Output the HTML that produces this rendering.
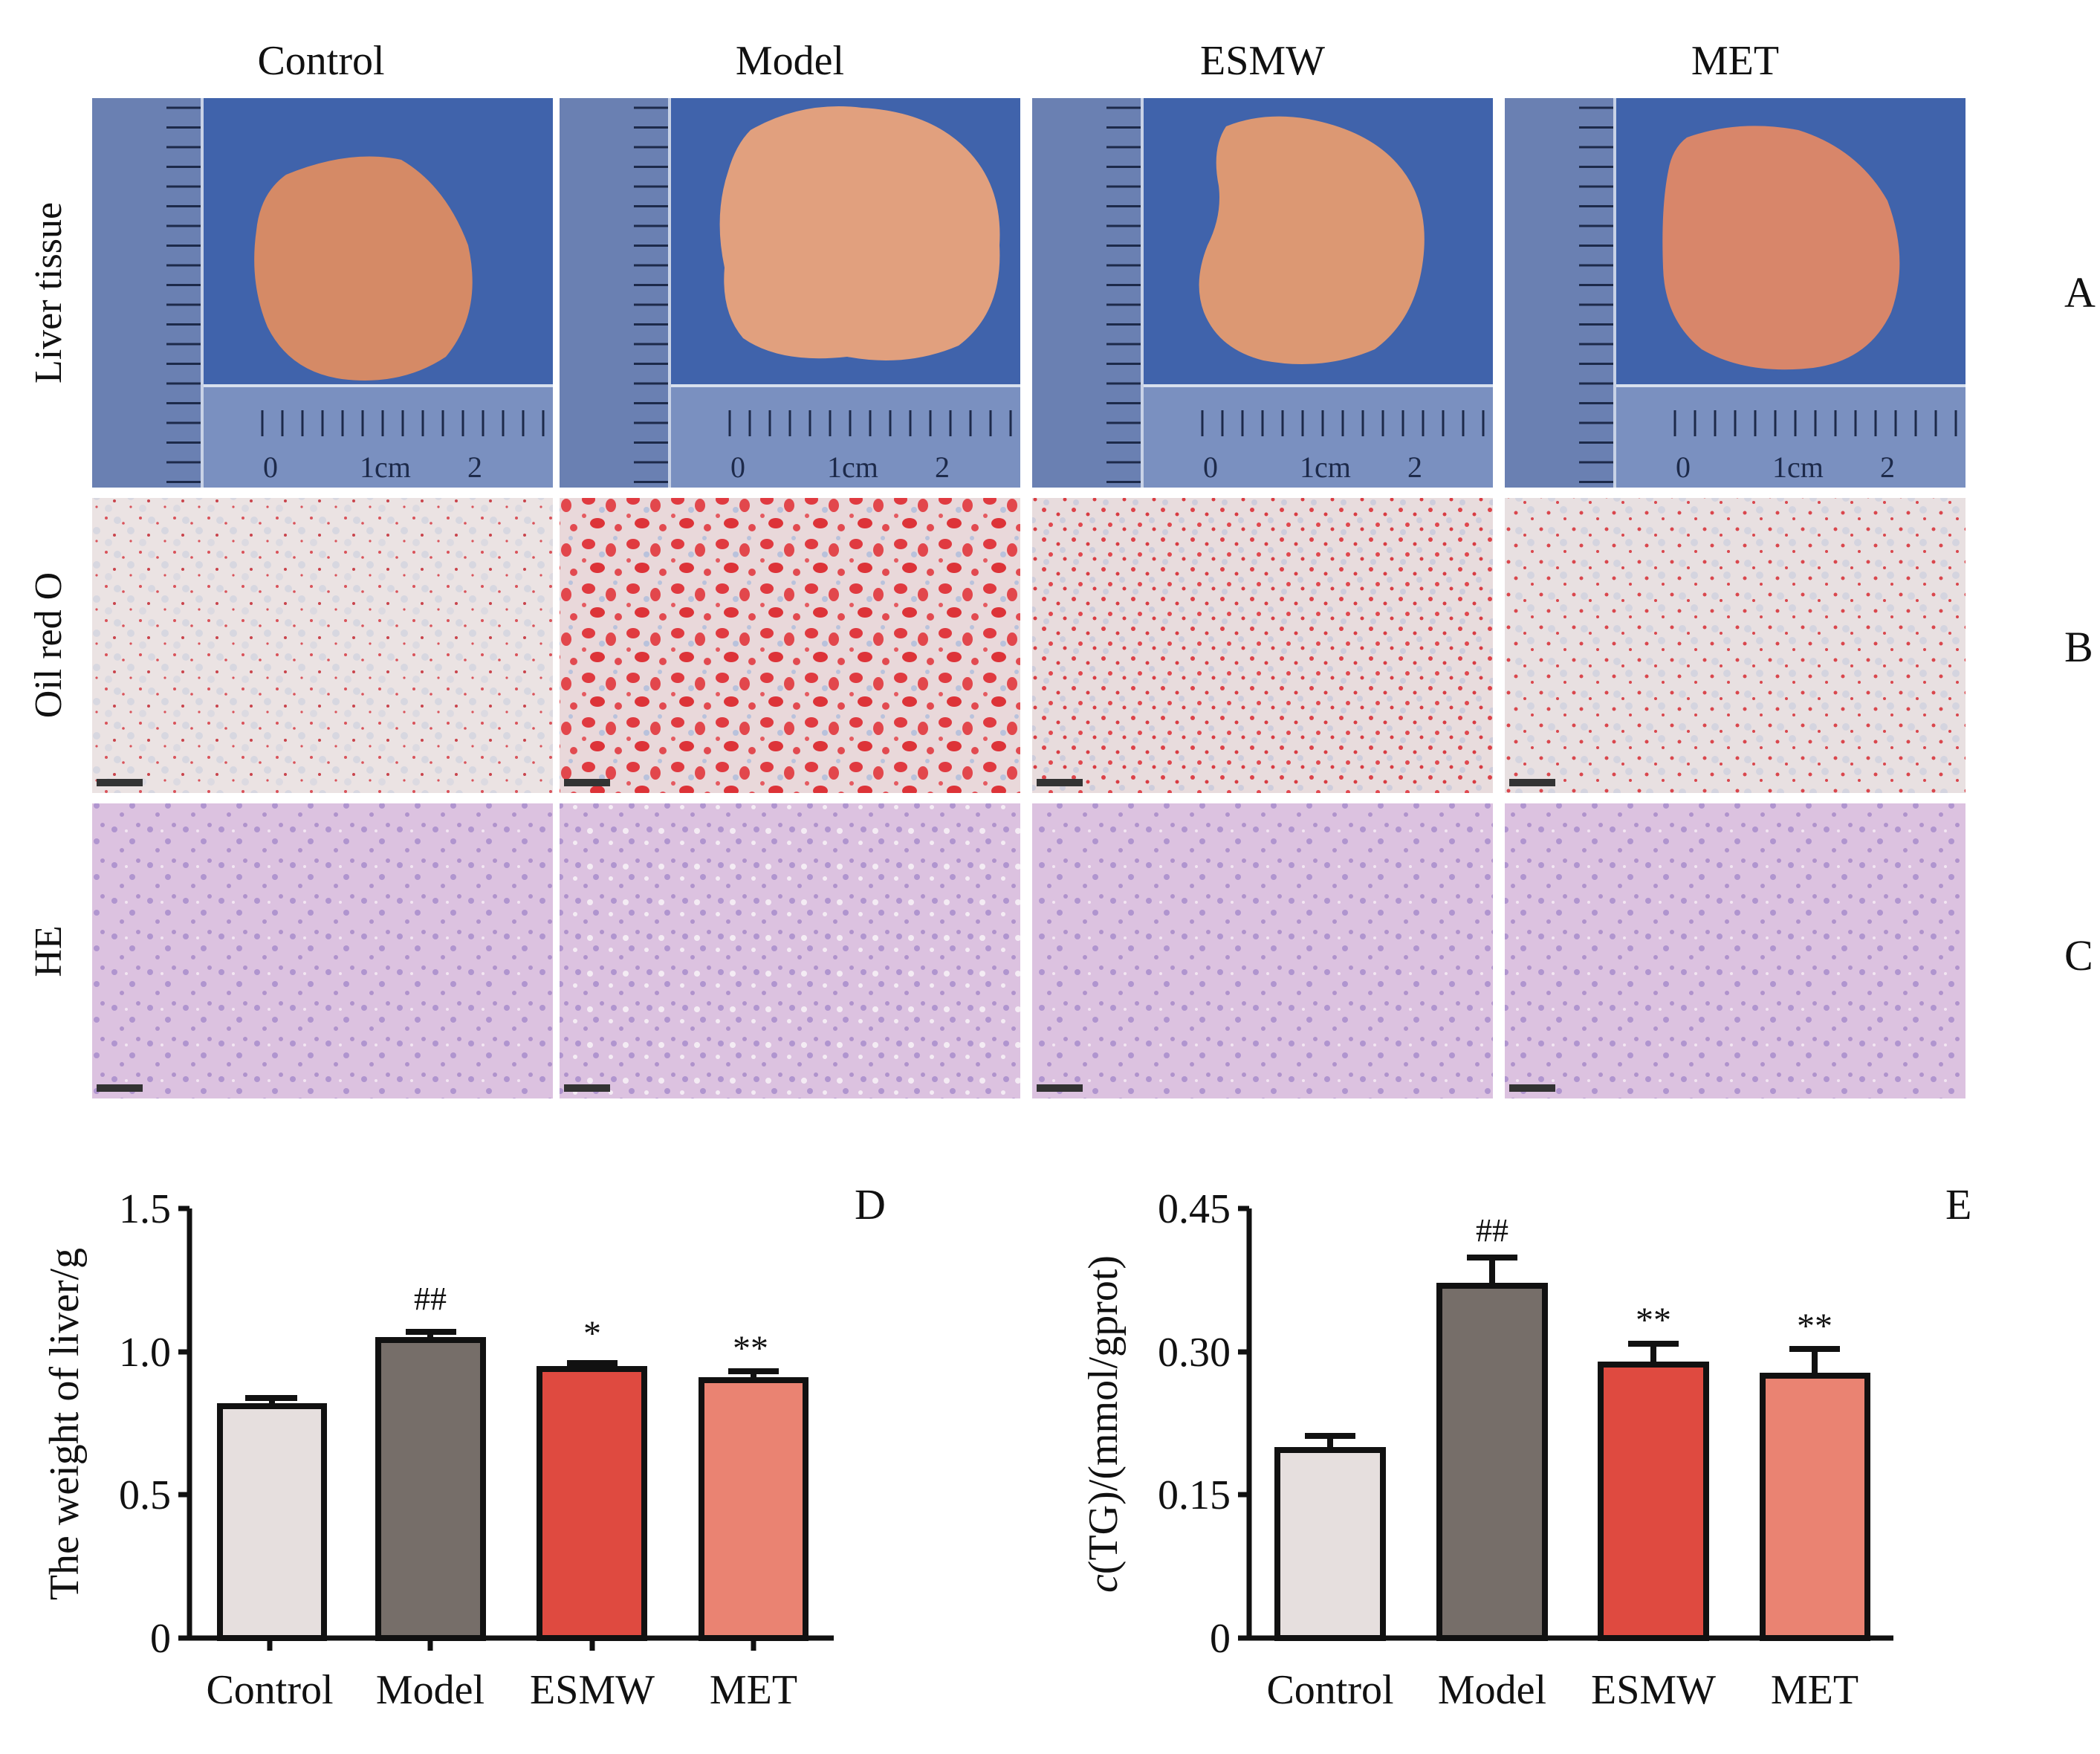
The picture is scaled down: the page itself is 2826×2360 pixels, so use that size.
<!DOCTYPE html>
<html><head><meta charset="utf-8"><style>
html,body{margin:0;padding:0;background:#fff;}
svg{display:block;}
text{font-family:"Liberation Serif",serif;fill:#111;}
</style></head><body>
<svg width="2826" height="2360" viewBox="0 0 2826 2360" xmlns="http://www.w3.org/2000/svg">
<defs>
<pattern id="orc" width="46" height="46" patternUnits="userSpaceOnUse">
<rect width="46" height="46" fill="#ebe3e3"/>
<circle cx="5" cy="7" r="2" fill="#d9535a"/><circle cx="28" cy="14" r="1.8" fill="#d9535a"/>
<circle cx="16" cy="30" r="2" fill="#c9444c"/><circle cx="38" cy="38" r="1.6" fill="#d9535a"/>
<circle cx="20" cy="10" r="5" fill="#c9cede" opacity=".6"/><circle cx="38" cy="24" r="5" fill="#c9cede" opacity=".6"/>
<circle cx="8" cy="40" r="5" fill="#d2d4e0" opacity=".6"/>
</pattern>
<pattern id="orm" width="60" height="60" patternUnits="userSpaceOnUse">
<rect width="60" height="60" fill="#e9d8da"/>
<ellipse cx="12" cy="12" rx="9" ry="7" fill="#e03a40"/><ellipse cx="42" cy="20" rx="7" ry="9" fill="#e2474c"/>
<ellipse cx="24" cy="44" rx="10" ry="7" fill="#dd3338"/><circle cx="52" cy="50" r="5" fill="#e24a50"/>
<circle cx="30" cy="26" r="4" fill="#b9c2dc"/><circle cx="6" cy="34" r="3" fill="#e55a60"/>
<circle cx="48" cy="4" r="3" fill="#b9c2dc"/>
</pattern>
<pattern id="ore" width="40" height="40" patternUnits="userSpaceOnUse">
<rect width="40" height="40" fill="#e8dcdd"/>
<circle cx="5" cy="6" r="3" fill="#dc4248"/><circle cx="24" cy="12" r="2.5" fill="#d83c42"/>
<circle cx="14" cy="26" r="3" fill="#e0484e"/><circle cx="33" cy="32" r="2.5" fill="#d83c42"/>
<circle cx="30" cy="20" r="4" fill="#c3c7dc" opacity=".7"/><circle cx="8" cy="36" r="4" fill="#c3c7dc" opacity=".7"/>
</pattern>
<pattern id="orx" width="44" height="44" patternUnits="userSpaceOnUse">
<rect width="44" height="44" fill="#e8e0e1"/>
<circle cx="6" cy="8" r="2.5" fill="#d9474d"/><circle cx="28" cy="16" r="2" fill="#d9474d"/>
<circle cx="16" cy="30" r="2.5" fill="#d9474d"/><circle cx="38" cy="38" r="2" fill="#d9474d"/>
<circle cx="20" cy="10" r="5" fill="#c6cbdd" opacity=".6"/><circle cx="36" cy="26" r="5" fill="#c6cbdd" opacity=".6"/>
</pattern>
<pattern id="he" width="48" height="48" patternUnits="userSpaceOnUse">
<rect width="48" height="48" fill="#dcc2e0"/>
<circle cx="10" cy="12" r="4" fill="#a58acb" opacity=".8"/><circle cx="34" cy="28" r="4" fill="#a58acb" opacity=".8"/>
<circle cx="20" cy="40" r="3" fill="#9d7fc4" opacity=".7"/><circle cx="42" cy="6" r="3" fill="#9d7fc4" opacity=".7"/>
<circle cx="26" cy="14" r="2" fill="#f2e6f2"/>
</pattern>
<pattern id="hem" width="48" height="48" patternUnits="userSpaceOnUse">
<rect width="48" height="48" fill="#dcc2e0"/>
<circle cx="10" cy="12" r="4" fill="#a58acb" opacity=".8"/><circle cx="34" cy="28" r="4" fill="#a58acb" opacity=".8"/>
<circle cx="20" cy="40" r="3" fill="#9d7fc4" opacity=".7"/><circle cx="42" cy="6" r="3" fill="#9d7fc4" opacity=".7"/>
<circle cx="26" cy="14" r="4" fill="#f4ecf4"/><circle cx="6" cy="30" r="3" fill="#f4ecf4"/>
</pattern>
<pattern id="rticks" width="146" height="26.5" patternUnits="userSpaceOnUse">
<line x1="100" y1="13" x2="146" y2="13" stroke="#1d2a4a" stroke-width="3"/>
</pattern>
<pattern id="bticks" width="27" height="140" patternUnits="userSpaceOnUse">
<line x1="13" y1="0" x2="13" y2="50" stroke="#1d2a4a" stroke-width="3"/>
</pattern>
<g id="photo">
<rect width="620" height="524" fill="#4063ab"/>
<rect width="150" height="524" fill="#6a80b2"/>
<rect width="146" height="524" fill="url(#rticks)"/>
<line x1="148" y1="0" x2="148" y2="524" stroke="#c8d2e6" stroke-width="4"/>
<rect x="150" y="385" width="470" height="139" fill="#7a90c0"/>
<line x1="150" y1="387" x2="620" y2="387" stroke="#d8e0ee" stroke-width="4"/>
<rect x="225" y="395" width="395" height="60" fill="url(#bticks)"/>
<text x="230" y="510" font-family="Liberation Sans" font-size="40" style="fill:#1d2a4a">0</text>
<text x="360" y="510" font-family="Liberation Sans" font-size="40" style="fill:#1d2a4a">1cm</text>
<text x="505" y="510" font-family="Liberation Sans" font-size="40" style="fill:#1d2a4a">2</text>
</g>
</defs>

<g font-size="56" text-anchor="middle">
<text x="432" y="100">Control</text>
<text x="1063" y="100">Model</text>
<text x="1699" y="100">ESMW</text>
<text x="2335" y="100">MET</text>
</g>
<g font-size="52" text-anchor="middle">
<text transform="translate(82,394) rotate(-90)">Liver tissue</text>
<text transform="translate(82,868) rotate(-90)">Oil red O</text>
<text transform="translate(82,1280) rotate(-90)">HE</text>
</g>
<g font-size="58">
<text x="2778" y="413">A</text>
<text x="2778" y="890">B</text>
<text x="2778" y="1305">C</text>
</g>

<use href="#photo" x="124" y="132"/>
<use href="#photo" x="753" y="132"/>
<use href="#photo" x="1389" y="132"/>
<use href="#photo" x="2025" y="132"/>
<path d="M385,235 Q470,200 540,215 Q600,250 630,330 Q650,420 600,480 Q540,520 460,510 Q390,500 360,440 Q335,380 345,310 Q350,260 385,235Z" fill="#d58a66"/>
<path d="M1010,175 Q1080,135 1160,145 Q1250,150 1300,200 Q1350,250 1345,330 Q1350,420 1290,465 Q1220,495 1140,480 Q1050,490 1000,455 Q970,420 975,360 Q960,290 980,230 Q990,195 1010,175Z" fill="#e1a07e"/>
<path d="M1650,170 Q1700,150 1760,160 Q1840,175 1880,220 Q1925,270 1915,350 Q1905,430 1850,470 Q1780,500 1700,485 Q1640,470 1620,420 Q1605,380 1625,330 Q1645,290 1640,250 Q1630,200 1650,170Z" fill="#dc9873"/>
<path d="M2270,185 Q2340,160 2420,175 Q2500,200 2540,270 Q2570,350 2545,420 Q2515,485 2440,495 Q2350,505 2290,470 Q2240,430 2238,360 Q2235,280 2245,230 Q2250,200 2270,185Z" fill="#d8866a"/>

<rect x="124" y="670" width="620" height="397" fill="url(#orc)"/>
<rect x="753" y="670" width="620" height="397" fill="url(#orm)"/>
<rect x="1389" y="670" width="620" height="397" fill="url(#ore)"/>
<rect x="2025" y="670" width="620" height="397" fill="url(#orx)"/>
<rect x="124" y="1081" width="620" height="397" fill="url(#he)"/>
<rect x="753" y="1081" width="620" height="397" fill="url(#hem)"/>
<rect x="1389" y="1081" width="620" height="397" fill="url(#he)"/>
<rect x="2025" y="1081" width="620" height="397" fill="url(#he)"/>
<g fill="#333">
<rect x="130" y="1048" width="62" height="10"/><rect x="759" y="1048" width="62" height="10"/><rect x="1395" y="1048" width="62" height="10"/><rect x="2031" y="1048" width="62" height="10"/>
<rect x="130" y="1459" width="62" height="10"/><rect x="759" y="1459" width="62" height="10"/><rect x="1395" y="1459" width="62" height="10"/><rect x="2031" y="1459" width="62" height="10"/>
</g>

<g stroke="#111" stroke-width="7" fill="none">
<line x1="255" y1="1626" x2="255" y2="2207"/>
<line x1="252" y1="2204" x2="1122" y2="2204"/>
<line x1="240" y1="1626" x2="255" y2="1626"/><line x1="240" y1="1819" x2="255" y2="1819"/><line x1="240" y1="2011" x2="255" y2="2011"/><line x1="240" y1="2204" x2="255" y2="2204"/>
<line x1="363" y1="2204" x2="363" y2="2221"/><line x1="579" y1="2204" x2="579" y2="2221"/><line x1="797" y1="2204" x2="797" y2="2221"/><line x1="1014" y1="2204" x2="1014" y2="2221"/>
</g>
<g stroke="#111" stroke-width="8">
<rect x="296" y="1892" width="140" height="312" fill="#e6dfde"/>
<rect x="509" y="1803" width="141" height="401" fill="#766e69"/>
<rect x="726" y="1842" width="141" height="362" fill="#df4a40"/>
<rect x="944" y="1857" width="140" height="347" fill="#ea8372"/>
<line x1="366" y1="1892" x2="366" y2="1881"/><line x1="330" y1="1881" x2="400" y2="1881"/>
<line x1="579" y1="1803" x2="579" y2="1792"/><line x1="546" y1="1792" x2="614" y2="1792"/>
<line x1="797" y1="1842" x2="797" y2="1834"/><line x1="763" y1="1834" x2="831" y2="1834"/>
<line x1="1014" y1="1857" x2="1014" y2="1845"/><line x1="980" y1="1845" x2="1048" y2="1845"/>
</g>
<g font-size="56" text-anchor="end">
<text x="230" y="1645">1.5</text><text x="230" y="1838">1.0</text><text x="230" y="2030">0.5</text><text x="230" y="2223">0</text>
</g>
<g font-size="56" text-anchor="middle">
<text x="363" y="2292">Control</text><text x="579" y="2292">Model</text><text x="797" y="2292">ESMW</text><text x="1014" y="2292">MET</text>
<text x="579" y="1762" font-size="44">##</text>
<text x="797" y="1810" font-size="48">*</text>
<text x="1010" y="1830" font-size="48">**</text>
</g>
<text transform="translate(105,1916) rotate(-90)" font-size="56" text-anchor="middle">The weight of liver/g</text>
<text x="1150" y="1640" font-size="58">D</text>

<g stroke="#111" stroke-width="7" fill="none">
<line x1="1681" y1="1626" x2="1681" y2="2207"/>
<line x1="1678" y1="2204" x2="2548" y2="2204"/>
<line x1="1666" y1="1626" x2="1681" y2="1626"/><line x1="1666" y1="1819" x2="1681" y2="1819"/><line x1="1666" y1="2011" x2="1681" y2="2011"/><line x1="1666" y1="2204" x2="1681" y2="2204"/>
</g>
<g stroke="#111" stroke-width="8">
<rect x="1719" y="1951" width="142" height="253" fill="#e6dfde"/>
<rect x="1937" y="1730" width="142" height="474" fill="#766e69"/>
<rect x="2154" y="1836" width="142" height="368" fill="#df4a40"/>
<rect x="2372" y="1851" width="141" height="353" fill="#ea8372"/>
<line x1="1790" y1="1951" x2="1790" y2="1932"/><line x1="1756" y1="1932" x2="1824" y2="1932"/>
<line x1="2008" y1="1730" x2="2008" y2="1692"/><line x1="1974" y1="1692" x2="2042" y2="1692"/>
<line x1="2225" y1="1836" x2="2225" y2="1808"/><line x1="2191" y1="1808" x2="2259" y2="1808"/>
<line x1="2442" y1="1851" x2="2442" y2="1815"/><line x1="2408" y1="1815" x2="2476" y2="1815"/>
</g>
<g font-size="56" text-anchor="end">
<text x="1656" y="1645">0.45</text><text x="1656" y="1838">0.30</text><text x="1656" y="2030">0.15</text><text x="1656" y="2223">0</text>
</g>
<g font-size="56" text-anchor="middle">
<text x="1790" y="2292">Control</text><text x="2008" y="2292">Model</text><text x="2225" y="2292">ESMW</text><text x="2442" y="2292">MET</text>
<text x="2008" y="1670" font-size="44">##</text>
<text x="2225" y="1792" font-size="48">**</text>
<text x="2442" y="1800" font-size="48">**</text>
</g>
<text transform="translate(1503,1916) rotate(-90)" font-size="56" text-anchor="middle"><tspan font-style="italic">c</tspan>(TG)/(mmol/gprot)</text>
<text x="2618" y="1640" font-size="58">E</text>
</svg>
</body></html>
